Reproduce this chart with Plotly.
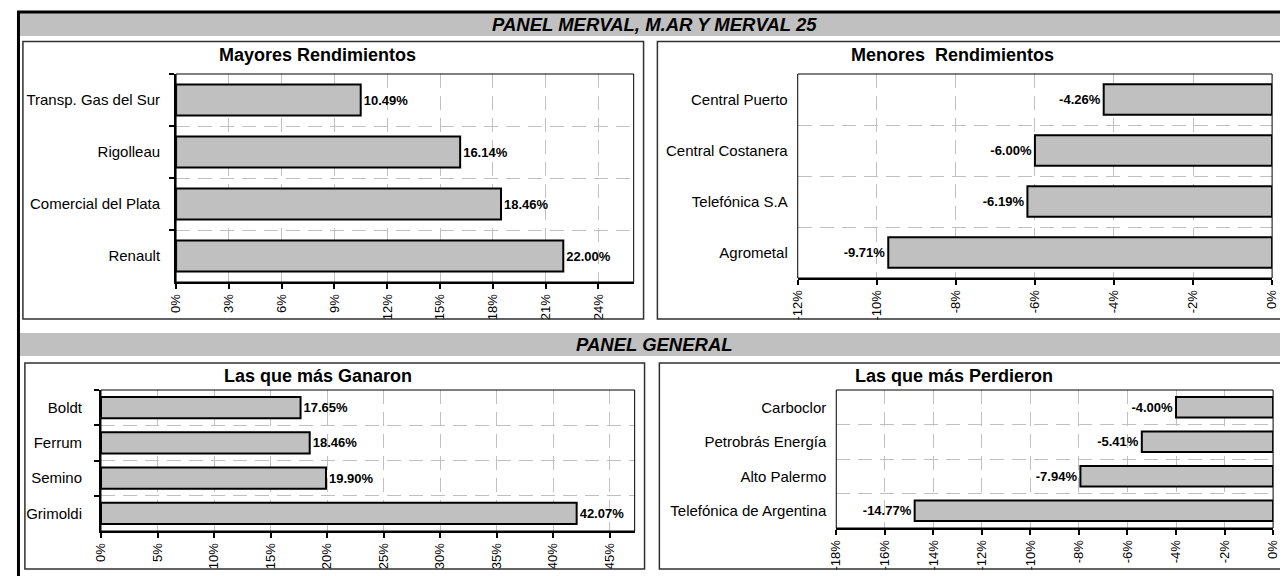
import plotly.graph_objects as go

# the page keeps the browser's 8px body margin, so the figure is 8px smaller
OFF = 8
W, H = 1288 - OFF, 576 - OFF
FONT = "Liberation Sans, Arial, sans-serif"
GRIS = "#c0c0c0"

# Panel Merval, M.AR y Merval 25 (orden de arriba hacia abajo)
mayores_nombres = ["Transp. Gas del Sur", "Rigolleau", "Comercial del Plata", "Renault"]
mayores_valores = [10.49, 16.14, 18.46, 22.00]

menores_nombres = ["Central Puerto", "Central Costanera", "Telefónica S.A", "Agrometal"]
menores_valores = [-4.26, -6.00, -6.19, -9.71]

# Panel General
ganaron_nombres = ["Boldt", "Ferrum", "Semino", "Grimoldi"]
ganaron_valores = [17.65, 18.46, 19.90, 42.07]

perdieron_nombres = ["Carboclor", "Petrobrás Energía", "Alto Palermo", "Telefónica de Argentina"]
perdieron_valores = [-4.00, -5.41, -7.94, -14.77]

ticks_mayores = [0, 3, 6, 9, 12, 15, 18, 21, 24]
ticks_menores = [-12, -10, -8, -6, -4, -2, 0]
ticks_ganaron = [0, 5, 10, 15, 20, 25, 30, 35, 40, 45]
ticks_perdieron = [-18, -16, -14, -12, -10, -8, -6, -4, -2, 0]

titulos = ["Mayores Rendimientos", "Menores  Rendimientos",
           "Las que más Ganaron", "Las que más Perdieron"]
encabezados = ["PANEL MERVAL, M.AR Y MERVAL 25", "PANEL GENERAL"]


def px_x(v):
    return (v - OFF) / W


def px_y(v):
    return 1 - (v - OFF) / H


# nombres, valores, ticks, rango x, area del grafico en pixeles de pantalla (x0, x1, y0, y1),
# separacion de las etiquetas de categoria
paneles = [
    (mayores_nombres, mayores_valores, ticks_mayores, [0, 26], (170, 633, 74, 282), 11),
    (menores_nombres, menores_valores, ticks_menores, [-12, 0], (799, 1279, 74, 278), 9),
    (ganaron_nombres, ganaron_valores, ticks_ganaron, [0, 47.2], (94, 634, 390, 531), 14),
    (perdieron_nombres, perdieron_valores, ticks_perdieron, [-18, 0], (838, 1280, 390, 528), 9),
]

fig = go.Figure()
shapes = []

for i, (nombres, valores, ticks, rango, (x0, x1, y0, y1), sep) in enumerate(paneles, start=1):
    sfx = "" if i == 1 else str(i)
    negativo = rango[1] == 0
    fig.add_trace(go.Bar(
        x=valores, y=nombres, orientation="h",
        xaxis="x" + sfx, yaxis="y" + sfx,
        width=0.6,
        marker=dict(color=GRIS, line=dict(color="black", width=2)),
        text=[f"{v:.2f}%" for v in valores],
        textposition="outside", constraintext="none",
        textfont=dict(family=FONT, size=13, color="black", weight=700),
        cliponaxis=False, hoverinfo="skip",
    ))
    fig.layout["xaxis" + sfx] = dict(
        domain=[px_x(x0), px_x(x1)], anchor="y" + sfx, range=rango,
        tickvals=ticks, ticktext=[f"{t}%" for t in ticks], tickangle=-90,
        ticks="outside", ticklen=5, tickcolor="black", tickwidth=1.5,
        tickfont=dict(family=FONT, size=13, color="black"),
        showline=True, linecolor="black", linewidth=2,
        showgrid=True, gridcolor=GRIS, griddash="14px,8px", gridwidth=1,
        zeroline=False, fixedrange=True,
    )
    fig.layout["yaxis" + sfx] = dict(
        domain=[px_y(y1), px_y(y0)], anchor="x" + sfx, type="category",
        categoryorder="array", categoryarray=nombres, range=[3.5, -0.5],
        tickson="boundaries", ticks="" if negativo else "outside",
        ticklen=5, tickcolor="black", tickwidth=1.5,
        ticklabelstandoff=sep,
        tickfont=dict(family=FONT, size=15, color="black"),
        showgrid=True, gridcolor=GRIS, griddash="14px,8px", gridwidth=1,
        showline=not negativo, linecolor="black", linewidth=2,
        zeroline=False, fixedrange=True,
    )
    # marco fino del area del grafico
    shapes.append(dict(type="rect", xref=f"x{sfx} domain", yref=f"y{sfx} domain",
                       x0=0, x1=1, y0=0, y1=1, line=dict(color="black", width=1)))

# eje de categorias del lado derecho (en 0%) para los paneles negativos
for base, extra in ((2, 5), (4, 6)):
    fig.layout[f"yaxis{extra}"] = dict(
        overlaying=f"y{base}", anchor=f"x{base}", side="right",
        range=[-0.5, 3.5], tickvals=[-0.5, 0.5, 1.5, 2.5, 3.5], ticks="outside",
        ticklen=5, tickcolor="black", tickwidth=1.5, showticklabels=False,
        showgrid=False, showline=True, linecolor="black", linewidth=2,
        zeroline=False, fixedrange=True,
    )

# bandas grises de encabezado
for ya, yb in ((13, 36), (333, 356)):
    shapes.append(dict(type="rect", xref="paper", yref="paper",
                       x0=px_x(12), x1=1.01, y0=px_y(yb), y1=px_y(ya),
                       fillcolor=GRIS, line=dict(width=0)))
# recuadros de cada grafico
for bx0, by0, bx1, by1 in ((15, 41.5, 643, 319), (657, 41.5, 1300, 319),
                           (17, 363, 644, 569), (659, 363, 1300, 569)):
    shapes.append(dict(type="rect", xref="paper", yref="paper",
                       x0=px_x(bx0), x1=px_x(bx1), y0=px_y(by1), y1=px_y(by0),
                       line=dict(color="#303030", width=1.5)))
# borde exterior negro
shapes.append(dict(type="line", xref="paper", yref="paper",
                   x0=px_x(9), x1=1.01, y0=px_y(12), y1=px_y(12),
                   line=dict(color="black", width=3)))
shapes.append(dict(type="line", xref="paper", yref="paper",
                   x0=px_x(10.5), x1=px_x(10.5), y0=px_y(12), y1=-0.01,
                   line=dict(color="black", width=3)))

annotations = []
for texto, yc in zip(encabezados, (24.5, 344.5)):
    annotations.append(dict(text=f"<b><i>{texto}</i></b>", x=px_x(654), y=px_y(yc),
                            xref="paper", yref="paper", showarrow=False,
                            xanchor="center", yanchor="middle",
                            font=dict(family=FONT, size=18.5, color="black")))
for texto, (xc, yc) in zip(titulos, ((313, 55), (956, 55), (314, 376), (957, 376))):
    annotations.append(dict(text=f"<b>{texto}</b>", x=px_x(xc), y=px_y(yc),
                            xref="paper", yref="paper", showarrow=False,
                            xanchor="center", yanchor="middle",
                            font=dict(family=FONT, size=18, color="black")))

fig.update_layout(
    width=W, height=H,
    margin=dict(l=0, r=0, t=0, b=0),
    paper_bgcolor="white", plot_bgcolor="white",
    showlegend=False, bargap=0.4,
    shapes=shapes, annotations=annotations,
    font=dict(family=FONT, color="black"),
)

fig.write_html("out.html")
